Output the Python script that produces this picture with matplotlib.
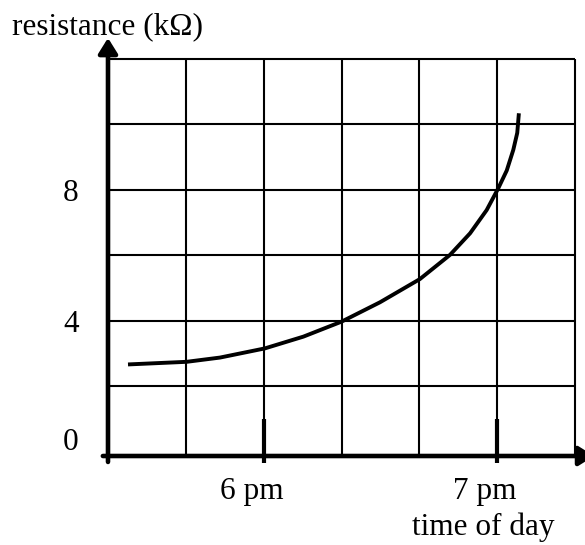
import numpy as np
import matplotlib
matplotlib.use("Agg")
import matplotlib.pyplot as plt
from matplotlib.transforms import ScaledTranslation

# ------------------------------
# data
# ------------------------------
# time in hours (18 = 6 pm), resistance in kOhm
time_hours = [17.419, 17.670, 17.813, 18.005, 18.170, 18.334, 18.498, 18.669,
              18.798, 18.884, 18.955, 19.005, 19.041, 19.069, 19.086, 19.093]
resistance = [2.66, 2.74, 2.87, 3.15, 3.51, 3.97, 4.56, 5.27,
              6.01, 6.67, 7.38, 8.05, 8.59, 9.22, 9.74, 10.34]

x_ticks = [18, 19]
x_tick_labels = ['6 pm', '7 pm']
y_ticks = [0, 4, 8]
y_tick_labels = ['0', '4', '8']

# grid: 20 minute columns, 2 kOhm rows
grid_x = [17 + 1/3 + k/3 for k in range(7)]
grid_y = [2, 4, 6, 8, 10, 12]

x_min, x_max = grid_x[0], grid_x[-1]
y_min, y_max = -0.14, 12

plt.rcParams['font.family'] = ['Liberation Serif', 'DejaVu Serif']

fig = plt.figure(figsize=(5.85, 5.45), dpi=100)
ax = fig.add_axes([108/585, 1 - 456/545, 467/585, 397/545])
ax.set_xlim(x_min, x_max)
ax.set_ylim(y_min, y_max)
for s in ax.spines.values():
    s.set_visible(False)

# grid lines
ax.vlines(grid_x[1:], y_min, y_max, color='black', lw=1.5, clip_on=False)
ax.hlines(grid_y, x_min, x_max, color='black', lw=1.5, clip_on=False)

# the curve
ax.plot(time_hours, resistance, color='black', lw=2.8,
        solid_capstyle='butt', solid_joinstyle='round')

# axes with arrows
arrow = dict(arrowstyle='-|>,head_length=0.4,head_width=0.25', lw=3.3,
             color='black', mutation_scale=23, shrinkA=0, shrinkB=0)
ax.annotate('', xy=(0, 1.053), xytext=(0, -0.015), xycoords='axes fraction',
            arrowprops=arrow, annotation_clip=False)
ax.annotate('', xy=(1.041, 0), xytext=(-0.011, 0), xycoords='axes fraction',
            arrowprops=arrow, annotation_clip=False)

# hand drawn ticks for 6 pm and 7 pm
ax.vlines(x_ticks, -0.35, 1.0, color='black', lw=3.0, clip_on=False)

ax.set_xticks(x_ticks, x_tick_labels, fontsize=22.5)
ax.set_yticks(y_ticks, y_tick_labels, fontsize=22.5)
ax.tick_params(axis='x', length=0, pad=15)
ax.tick_params(axis='y', length=0, pad=21)
for lab in ax.get_xticklabels():
    lab.set_transform(lab.get_transform() + ScaledTranslation(-12/100, 0, fig.dpi_scale_trans))
zero_lab = ax.get_yticklabels()[0]
zero_lab.set_transform(zero_lab.get_transform() + ScaledTranslation(0, 12/100, fig.dpi_scale_trans))

fig.text(12/585, 1 - 34/545, 'resistance (kΩ)', fontsize=22.5, ha='left', va='baseline')
fig.text(483/585, 1 - 535/545, 'time of day', fontsize=22.5, ha='center', va='baseline')

fig.savefig('out.png', dpi=100)
